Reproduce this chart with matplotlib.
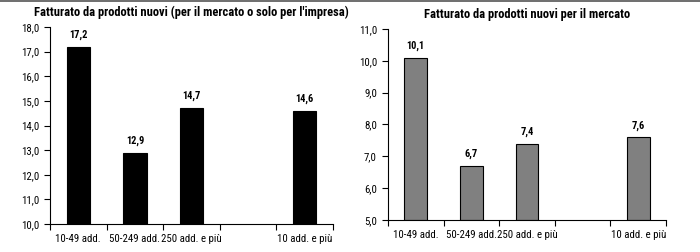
import numpy as np
import matplotlib.pyplot as plt
from matplotlib.lines import Line2D

plt.rcParams['font.family'] = ['Roboto Condensed', 'Liberation Sans', 'DejaVu Sans']

categories = ['10-49 add.', '50-249 add.', '250 add. e più', '', '10 add. e più']
values_tot = [17.2, 12.9, 14.7, None, 14.6]
values_mkt = [10.1, 6.7, 7.4, None, 7.6]
title_tot = "Fatturato da prodotti nuovi (per il mercato o solo per l'impresa)"
title_mkt = "Fatturato da prodotti nuovi per il mercato"


def draw_panel(ax, vals, ymin, ymax, color, title):
    x = np.arange(len(categories))
    for xi, v in zip(x, vals):
        if v is None:
            continue
        ax.bar(xi, v - ymin, bottom=ymin, width=0.41, color=color,
               edgecolor='black', linewidth=0.8)
        ax.text(xi, v + (ymax - ymin) * 0.035, f'{v:.1f}'.replace('.', ','),
                ha='center', va='bottom', fontsize=7.5, fontweight='bold')
    ax.set_xlim(-0.5, len(categories) - 0.5)
    ax.set_ylim(ymin, ymax)
    yt = np.arange(ymin, ymax + 0.01, 1.0)
    ax.set_yticks(yt)
    ax.set_yticklabels([f'{t:.1f}'.replace('.', ',') for t in yt], fontsize=7.8)
    ax.set_xticks(np.arange(-0.5, len(categories), 1.0))
    ax.set_xticklabels([])
    ax.set_xticks(x, minor=True)
    ax.set_xticklabels(categories, minor=True, fontsize=7.8)
    ax.tick_params(axis='x', which='minor', length=0, pad=7)
    ax.tick_params(axis='x', which='major', length=4, width=0.8, direction='out')
    ax.tick_params(axis='y', length=4, width=0.8, direction='out', pad=4)
    ax.spines['top'].set_visible(False)
    ax.spines['right'].set_visible(False)
    ax.spines['left'].set_linewidth(0.8)
    ax.spines['bottom'].set_linewidth(0.8)
    ax.set_title(title, fontsize=9, fontweight='bold', pad=8)


fig = plt.figure(figsize=(7, 2.52), dpi=100)
ax1 = fig.add_axes([50 / 700, 1 - 224 / 252, 283 / 700, (224 - 27) / 252])
ax2 = fig.add_axes([388 / 700, 1 - 220 / 252, 278 / 700, (220 - 29) / 252])

draw_panel(ax1, values_tot, 10.0, 18.0, 'black', title_tot)
draw_panel(ax2, values_mkt, 5.0, 11.0, '#808080', title_mkt)

fig.add_artist(Line2D([0, 1], [0.998, 0.998], color='#555555', linewidth=1.2,
                      transform=fig.transFigure))

fig.savefig('out.png', dpi=100)
